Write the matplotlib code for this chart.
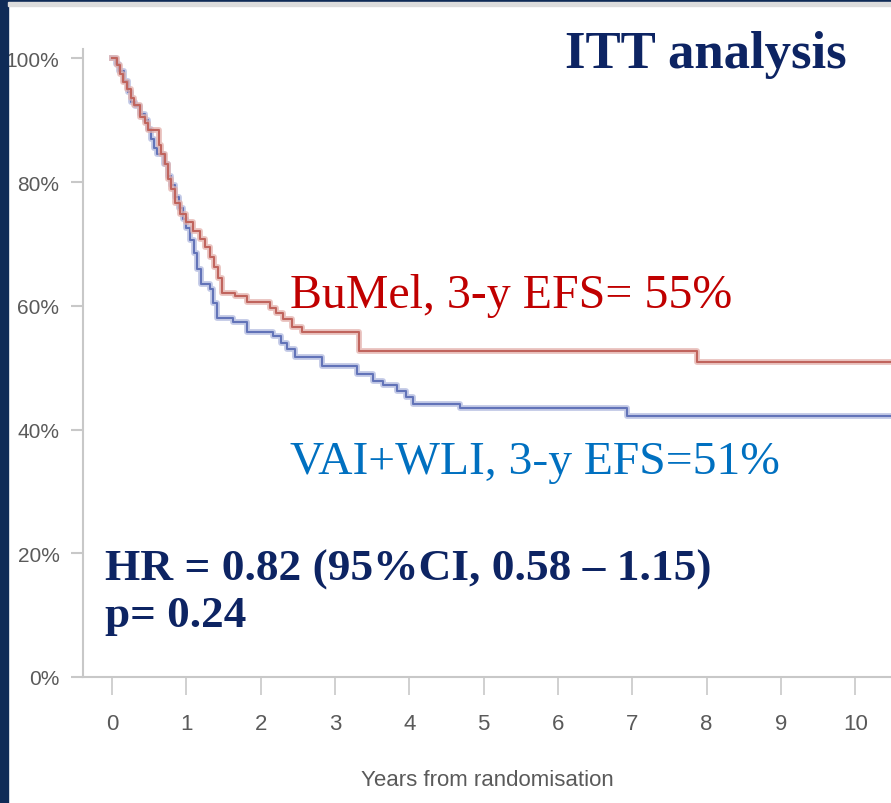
import matplotlib
matplotlib.use("Agg")
import matplotlib.pyplot as plt
from matplotlib.patches import Rectangle
from matplotlib.ticker import FuncFormatter

# Kaplan-Meier event-free survival, step values (years, % event-free)
bumel_t = [0, 0.07, 0.11, 0.15, 0.20, 0.25, 0.30, 0.38, 0.44, 0.48, 0.63, 0.66,
           0.71, 0.76, 0.80, 0.85, 0.92, 1.00, 1.09, 1.18, 1.25, 1.32, 1.37, 1.42,
           1.48, 1.65, 1.82, 2.12, 2.20, 2.30, 2.42, 2.55, 3.32, 7.87, 10.48]
bumel_s = [100, 98.9, 97.4, 96.1, 95.0, 93.5, 92.4, 90.5, 89.5, 88.4, 86.0, 84.5,
           82.9, 80.5, 78.8, 76.6, 74.9, 73.5, 72.1, 70.8, 69.5, 67.9, 66.3, 64.5,
           62.0, 61.5, 60.6, 59.6, 58.8, 57.8, 56.5, 55.7, 52.7, 50.9, 50.9]

vai_t = [0, 0.05, 0.10, 0.16, 0.22, 0.26, 0.31, 0.38, 0.44, 0.48, 0.52, 0.56,
         0.60, 0.70, 0.76, 0.80, 0.85, 0.90, 0.95, 1.00, 1.05, 1.10, 1.15, 1.20,
         1.32, 1.36, 1.41, 1.63, 1.82, 2.17, 2.28, 2.35, 2.46, 2.83, 3.30, 3.51,
         3.65, 3.84, 3.95, 4.05, 4.68, 6.93, 10.48]
vai_s = [100, 99.0, 97.9, 96.3, 94.5, 93.0, 92.3, 91.0, 90.1, 88.5, 87.0, 85.5,
         84.6, 82.9, 81.0, 79.5, 77.5, 75.8, 74.0, 72.5, 70.6, 68.5, 66.0, 63.5,
         62.7, 60.5, 58.0, 57.3, 55.8, 55.1, 54.0, 53.0, 51.7, 50.2, 48.9, 47.8,
         47.2, 46.2, 45.3, 44.2, 43.5, 42.2, 42.2]

x_ticks = list(range(0, 11))
y_ticks = [0, 20, 40, 60, 80, 100]

W, H = 891, 804
fig = plt.figure(figsize=(W / 100, H / 100), dpi=100)
fig.patch.set_facecolor("white")

# slide frame: navy strips on the left and top
navy = "#0f2b57"
fig.patches.append(Rectangle((0, 0), 8 / W, 1, transform=fig.transFigure,
                             color=navy, zorder=0))
fig.patches.append(Rectangle((0, 1 - 3 / H), 1, 3 / H, transform=fig.transFigure,
                             color=navy, zorder=0))
fig.patches.append(Rectangle((8 / W, 1 - 7 / H), 1, 4 / H, transform=fig.transFigure,
                             color="#dcdcdc", zorder=0))

ax = fig.add_axes([83 / W, 1 - 678 / H, (W - 83) / W, (678 - 50) / H])
ax.set_xlim(-0.39, 10.48)
ax.set_ylim(0, 101.5)

red_core, red_halo = "#c0645d", "#e3b0ab"
blue_core, blue_halo = "#6273b8", "#b0b9df"

ax.step(vai_t, vai_s, where="post", color=blue_halo, lw=4.2, alpha=0.75, zorder=2)
ax.step(vai_t, vai_s, where="post", color=blue_core, lw=1.5, zorder=3)
ax.step(bumel_t, bumel_s, where="post", color=red_halo, lw=4.2, alpha=0.75, zorder=4)
ax.step(bumel_t, bumel_s, where="post", color=red_core, lw=1.5, zorder=5)

for side in ["top", "right"]:
    ax.spines[side].set_visible(False)
for side in ["left", "bottom"]:
    ax.spines[side].set_color("#c8c8c8")
    ax.spines[side].set_linewidth(1.5)

tick_font = ["Liberation Sans", "DejaVu Sans"]
ax.set_xticks(x_ticks)
ax.set_yticks(y_ticks)
ax.yaxis.set_major_formatter(FuncFormatter(lambda v, p: f"{int(v)}%"))
ax.tick_params(axis="y", direction="out", length=9, width=1.5, color="#c8c8c8",
               pad=8, labelsize=15, labelcolor="#5a5a5a")
ax.tick_params(axis="x", direction="out", length=13, width=1.2, color="#c8c8c8",
               pad=13, labelsize=16, labelcolor="#5a5a5a")
for lab in ax.get_xticklabels() + ax.get_yticklabels():
    lab.set_family(tick_font)

ax.set_xlabel("Years from randomisation", family=tick_font, fontsize=16,
              color="#5a5a5a", labelpad=25)

serif = ["Liberation Serif", "DejaVu Serif"]
fig.text(565 / W, 1 - 68 / H, "ITT analysis", family=serif, fontweight="bold",
         fontsize=38, color="#0d2463", ha="left", va="baseline")
fig.text(290 / W, 1 - 308 / H, "BuMel, 3-y EFS= 55%", family=serif,
         fontsize=34.5, color="#c00000", ha="left", va="baseline")
fig.text(290 / W, 1 - 474 / H, "VAI+WLI, 3-y EFS=51%", family=serif,
         fontsize=34.2, color="#0070c0", ha="left", va="baseline")
fig.text(105 / W, 1 - 581 / H, "HR = 0.82 (95%CI, 0.58 \u2013 1.15)", family=serif,
         fontweight="bold", fontsize=32.7, color="#0d2463", ha="left", va="baseline")
fig.text(105 / W, 1 - 627 / H, "p= 0.24", family=serif,
         fontweight="bold", fontsize=32.5, color="#0d2463", ha="left", va="baseline")

fig.savefig("out.png", dpi=100)
